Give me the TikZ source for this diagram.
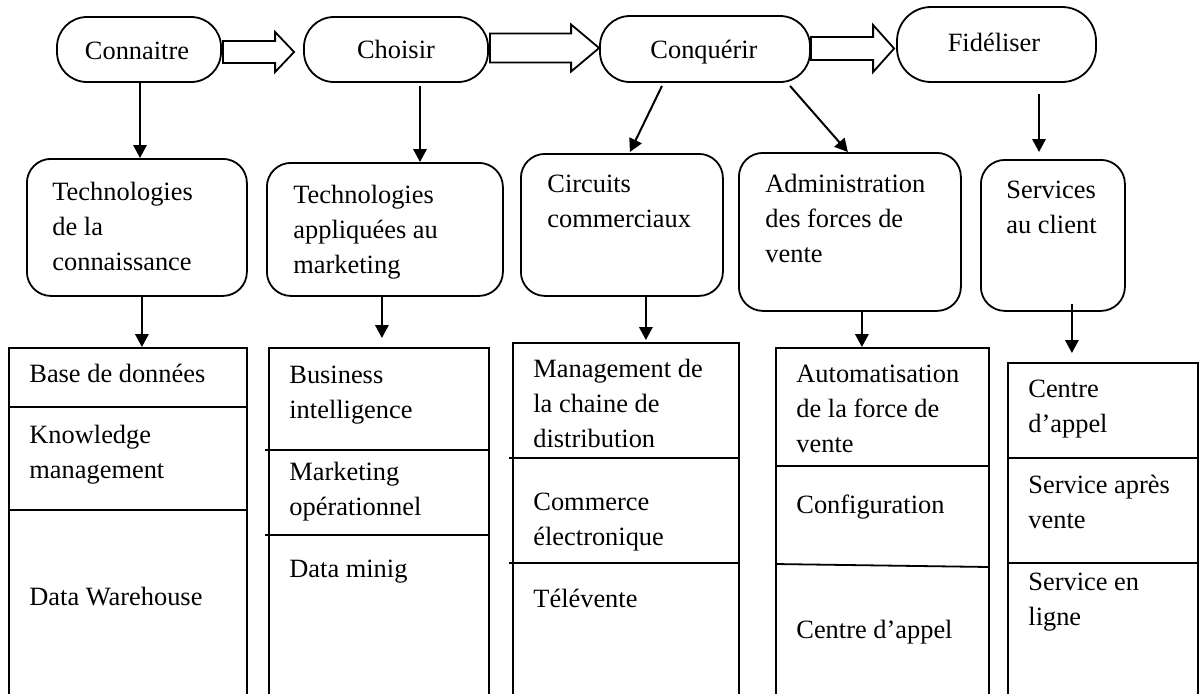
\documentclass[tikz,border=0pt]{standalone}
\usepackage{fontspec}
\setmainfont{Liberation Serif}
\usetikzlibrary{arrows.meta,calc}
\newcommand{\fatarr}[5]{%
  \draw[fat] ($(#1)+(0,-#3)$) -- ($(#2)+(-#5,-#3)$) -- ($(#2)+(-#5,-#4)$) -- (#2)
    -- ($(#2)+(-#5,#4)$) -- ($(#2)+(-#5,#3)$) -- ($(#1)+(0,#3)$) -- cycle;}
\begin{document}
\begin{tikzpicture}[x=0.5pt,y=-0.5pt,
  font=\fontsize{13.2}{17.5}\selectfont,
  pill/.style={draw,line width=0.9pt,rounded corners=15pt,inner sep=0pt},
  rbox/.style={draw,line width=0.9pt,rounded corners=12pt,inner sep=0pt,anchor=north west},
  col/.style={draw,line width=0.9pt,inner sep=0pt,anchor=north west},
  txt/.style={anchor=base west,inner sep=0pt},
  lbl/.style={anchor=base,inner sep=0pt},
  arr/.style={line width=1pt,-{Triangle[length=6.5pt,width=6.7pt]}},
  divl/.style={line width=0.9pt},
  fat/.style={draw,line width=0.9pt,fill=white,line join=miter}]
\useasboundingbox (0,0) rectangle (1199,693);

% top pills
\node[pill,minimum width=82pt,minimum height=32.5pt] (c1) at (139,49.5) {};
\node[pill,minimum width=92pt,minimum height=32.5pt] (c2) at (396,49.5) {};
\node[pill,minimum width=105pt,minimum height=33pt] (c3) at (705,49) {};
\node[pill,rounded corners=17pt,minimum width=99.5pt,minimum height=37.5pt] (c4) at (996.5,44.5) {};
\node[lbl] (l1) at (137,59) {Connaitre};
\node[lbl] (l2) at (396,58) {Choisir};
\node[lbl] (l3) at (704,58) {Conquérir};
\node[lbl] (l4) at (994,51) {Fidéliser};

% hollow arrows
\coordinate (a1s) at ($(c1.east)+(1,2.5)$);
\coordinate (a1e) at ($(c2.west)+(-9,2.5)$);
\fatarr{a1s}{a1e}{11}{20}{19}
\coordinate (a2s) at ($(c2.east)+(1,-1.5)$);
\coordinate (a2e) at ($(c3.west)+(0,-1)$);
\fatarr{a2s}{a2e}{14.5}{23.5}{28}
\coordinate (a3s) at ($(c3.east)+(0,-0.5)$);
\coordinate (a3e) at ($(c4.west)+(-2,4)$);
\fatarr{a3s}{a3e}{11.5}{23.5}{21}

% middle boxes
\node[rbox,minimum width=110pt,minimum height=68.5pt] (m1) at (26,158) {};
\node[rbox,minimum width=118pt,minimum height=66.5pt] (m2) at (266,162) {};
\node[rbox,minimum width=101pt,minimum height=71pt] (m3) at (520,153) {};
\node[rbox,minimum width=111pt,minimum height=79pt] (m4) at (738,152) {};
\node[rbox,minimum width=72pt,minimum height=75.5pt] (m5) at (980,159) {};

\node[txt] (mt1) at (52,200) {\parbox[t]{120pt}{Technologies\\de la\\connaissance}};
\node[txt] (mt2) at (293,203) {\parbox[t]{120pt}{Technologies\\appliquées au\\marketing}};
\node[txt] (mt3) at (547,192) {\parbox[t]{120pt}{Circuits\\commerciaux}};
\node[txt] (mt4) at (765,192) {\parbox[t]{120pt}{Administration\\des forces de\\vente}};
\node[txt] (mt5) at (1006,198) {\parbox[t]{120pt}{Services\\au client}};

% arrows top -> middle
\draw[arr] ($(c1.south)+(1,0)$) -- ($(c1.south |- m1.north)+(1,0)$);
\draw[arr] ($(c2.south)+(24,3)$) -- ($(c2.south |- m2.north)+(24,0)$);
\draw[arr] ($(c3.south)+(-43,3)$) -- ($(m3.north)+(8,-1)$);
\draw[arr] ($(c3.south)+(85,3)$) -- ($(m4.north)+(-2,0)$);
\draw[arr] ($(c4.south)+(42.5,11)$) -- ($(c4.south |- m5.north)+(42.5,-7)$);

% bottom columns (open at the bottom, beyond the page)
\node[col,minimum width=119pt,minimum height=180pt] (b1) at (8,347) {};
\node[col,minimum width=110pt,minimum height=180pt] (b2) at (268,347) {};
\node[col,minimum width=113pt,minimum height=182pt] (b3) at (512,342) {};
\node[col,minimum width=106.5pt,minimum height=180pt] (b4) at (775,347) {};
\node[col,minimum width=95pt,minimum height=172pt] (b5) at (1007,362) {};

% dividers
\draw[divl] ($(b1.north west)+(0,60)$) -- ($(b1.north east)+(0,60)$);
\draw[divl] ($(b1.north west)+(0,163)$) -- ($(b1.north east)+(0,163)$);
\draw[divl] ($(b2.north west)+(-3,103)$) -- ($(b2.north east)+(-2,103)$);
\draw[divl] ($(b2.north west)+(-3,188)$) -- ($(b2.north east)+(-2,188)$);
\draw[divl] ($(b3.north west)+(-3,116)$) -- ($(b3.north east)+(0,116)$);
\draw[divl] ($(b3.north west)+(-3,221)$) -- ($(b3.north east)+(0,221)$);
\draw[divl] ($(b4.north west)+(0,119)$) -- ($(b4.north east)+(0,119)$);
\draw[divl] ($(b4.north west)+(0,217)$) -- ($(b4.north east)+(0,220)$);
\draw[divl] ($(b5.north west)+(0,96)$) -- ($(b5.north east)+(0,96)$);
\draw[divl] ($(b5.north west)+(0,201)$) -- ($(b5.north east)+(0,201)$);

% arrows middle -> bottom
\draw[arr] ($(m1.south)+(5,0)$) -- ($(m1.south |- b1.north)+(5,0)$);
\draw[arr] ($(m2.south)+(-3,0)$) -- ($(m2.south |- b2.north)+(-3,-9)$);
\draw[arr] ($(m3.south)+(24,0)$) -- ($(m3.south |- b3.north)+(24,-2)$);
\draw[arr] ($(m4.south)+(12,0)$) -- ($(m4.south |- b4.north)+(12,0)$);
\draw[arr] ($(m5.south)+(19,-8)$) -- ($(m5.south |- b5.north)+(19,-9)$);

% bottom texts
\node[txt] (x11) at (29,382) {Base de données};
\node[txt] (x12) at (29,443) {\parbox[t]{120pt}{Knowledge\\management}};
\node[txt] (x13) at (29,605) {Data Warehouse};
\node[txt] (x21) at (289,383) {\parbox[t]{120pt}{Business\\intelligence}};
\node[txt] (x22) at (289,480) {\parbox[t]{120pt}{Marketing\\opérationnel}};
\node[txt] (x23) at (289,577) {Data minig};
\node[txt] (x31) at (533,377) {\parbox[t]{120pt}{Management de\\la chaine de\\distribution}};
\node[txt] (x32) at (533,510) {\parbox[t]{120pt}{Commerce\\électronique}};
\node[txt] (x33) at (533,607) {Télévente};
\node[txt] (x41) at (796,382) {\parbox[t]{120pt}{Automatisation\\de la force de\\vente}};
\node[txt] (x42) at (796,513) {Configuration};
\node[txt] (x43) at (796,638) {Centre d’appel};
\node[txt] (x51) at (1028,397) {\parbox[t]{120pt}{Centre\\d’appel}};
\node[txt] (x52) at (1028,493) {\parbox[t]{120pt}{Service après\\vente}};
\node[txt] (x53) at (1028,590) {\parbox[t]{120pt}{Service en\\ligne}};
\end{tikzpicture}
\end{document}
